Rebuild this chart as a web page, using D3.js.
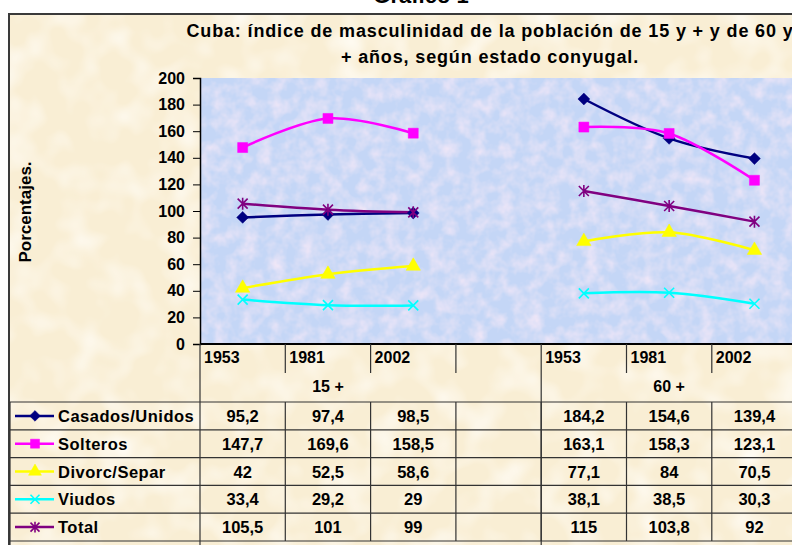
<!DOCTYPE html>
<html>
<head>
<meta charset="utf-8">
<script src="https://cdnjs.cloudflare.com/ajax/libs/d3/7.8.5/d3.min.js"></script>
<style>
  body { margin: 0; background: #fff; }
  text { font-family: Arial, "Liberation Sans", sans-serif; font-weight: bold; fill: #000; }
</style>
</head>
<body>
<svg id="chart" width="792" height="545"></svg>
<script>
// categories along the x axis (slot 3 is the empty gap between groups)
var years = ['1953', '1981', '2002', '', '1953', '1981', '2002'];
var groups = [{label: '15 +', from: 0, to: 3}, {label: '60 +', from: 4, to: 7}];
var yTicks = [0, 20, 40, 60, 80, 100, 120, 140, 160, 180, 200];

var seriesNames = ['Casados/Unidos', 'Solteros', 'Divorc/Separ', 'Viudos', 'Total'];
var casados  = [95.2, 97.4, 98.5, null, 184.2, 154.6, 139.4];
var solteros = [147.7, 169.6, 158.5, null, 163.1, 158.3, 123.1];
var divorc   = [42, 52.5, 58.6, null, 77.1, 84, 70.5];
var viudos   = [33.4, 29.2, 29, null, 38.1, 38.5, 30.3];
var total    = [105.5, 101, 99, null, 115, 103.8, 92];

var seriesColors = ['#000080', '#ff00ff', '#ffff00', '#00ffff', '#800080'];
var seriesMarks = ['diamond', 'square', 'triangle', 'x', 'star'];

var series = seriesNames.map(function(n, i) {
    return {name: n, values: [casados, solteros, divorc, viudos, total][i],
            color: seriesColors[i], mark: seriesMarks[i]};
});

var svg = d3.select('#chart');

// mottled fills, like the Excel textures
var defs = svg.append('defs');
var f1 = defs.append('filter').attr('id', 'mottle').attr('x', 0).attr('y', 0).attr('width', 1).attr('height', 1);
f1.append('feTurbulence').attr('type', 'fractalNoise').attr('baseFrequency', 0.07)
    .attr('numOctaves', 3).attr('seed', 4);
f1.append('feColorMatrix').attr('type', 'matrix')
    .attr('values', '0 0 0 0 0.88  0 0 0 0 0.80  0 0 0 0 0.93  1.7 0 0 0 -0.62');
var f2 = defs.append('filter').attr('id', 'paper').attr('x', 0).attr('y', 0).attr('width', 1).attr('height', 1);
f2.append('feTurbulence').attr('type', 'fractalNoise').attr('baseFrequency', 0.03)
    .attr('numOctaves', 2).attr('seed', 7);
f2.append('feColorMatrix').attr('type', 'matrix')
    .attr('values', '0 0 0 0 1  0 0 0 0 0.98  0 0 0 0 0.93  2 0 0 0 -0.9');

// chart frame
svg.append('rect').attr('x', 9).attr('y', 14).attr('width', 800).attr('height', 560)
    .attr('fill', '#f9eed4');
svg.append('rect').attr('x', 9).attr('y', 14).attr('width', 800).attr('height', 560)
    .attr('fill', '#fff').attr('filter', 'url(#paper)');
svg.append('rect').attr('x', 9).attr('y', 14).attr('width', 800).attr('height', 560)
    .attr('fill', 'none').attr('stroke', '#3a3a3a').attr('stroke-width', 2);

// "Gráfico 1" heading, mostly cropped
svg.append('text').attr('x', 421).attr('y', 3).attr('text-anchor', 'middle')
    .style('font-size', '22px').text('Gráfico 1');

svg.append('text').attr('x', 490).attr('y', 37).attr('text-anchor', 'middle')
    .style('font-size', '18px').style('letter-spacing', '0.85px')
    .text('Cuba: índice de masculinidad de la población de 15 y +  y de 60 y');
svg.append('text').attr('x', 490).attr('y', 63).attr('text-anchor', 'middle')
    .style('font-size', '18px').style('letter-spacing', '0.85px')
    .text('+ años, según estado conyugal.');

var plotLeft = 200, plotTop = 78, plotBottom = 344, slot = 85.3;
var x = d3.scaleBand().domain(d3.range(years.length))
    .range([plotLeft, plotLeft + slot * years.length]).padding(0);
var y = d3.scaleLinear().domain([0, 200]).range([plotBottom, plotTop]);

// plot area
svg.append('rect').attr('x', plotLeft).attr('y', plotTop)
    .attr('width', slot * years.length).attr('height', plotBottom - plotTop)
    .attr('fill', '#c4d6f6');
svg.append('rect').attr('x', plotLeft).attr('y', plotTop)
    .attr('width', slot * years.length).attr('height', plotBottom - plotTop)
    .attr('fill', '#fff').attr('filter', 'url(#mottle)');

// y axis
var yAxis = svg.append('g').attr('transform', 'translate(' + plotLeft + ',0)')
    .call(d3.axisLeft(y).tickValues(yTicks).tickSize(7).tickPadding(8));
yAxis.select('.domain').attr('stroke', '#000').attr('stroke-width', 1.5);
yAxis.selectAll('.tick line').attr('stroke', '#000');
yAxis.selectAll('text').style('font-size', '16px').style('font-family', 'Arial, sans-serif')
    .style('font-weight', 'bold');

svg.append('text').attr('transform', 'translate(31,212) rotate(-90)')
    .attr('text-anchor', 'middle').style('font-size', '17px').text('Porcentajes.');

// x axis line
svg.append('line').attr('x1', plotLeft).attr('x2', 792).attr('y1', plotBottom).attr('y2', plotBottom)
    .attr('stroke', '#000').attr('stroke-width', 2);

// year labels and category separators
svg.selectAll('.yr').data(years).enter().append('text').attr('class', 'yr')
    .attr('x', function(d, i) { return x(i) + 4; }).attr('y', 363)
    .style('font-size', '16px').text(function(d) { return d; });
svg.selectAll('.sep').data(d3.range(1, years.length)).enter().append('line')
    .attr('x1', function(d) { return x(d); }).attr('x2', function(d) { return x(d); })
    .attr('y1', plotBottom).attr('y2', function(d) { return d === 4 ? 545 : 373; })
    .attr('stroke', '#333').attr('stroke-width', 1.2);

svg.selectAll('.grp').data(groups).enter().append('text')
    .attr('x', function(d) { return x(d.from) + slot * (d.to - d.from) / 2; })
    .attr('y', 392).attr('text-anchor', 'middle').style('font-size', '16px')
    .text(function(d) { return d.label; });

// data table
var rowTop = 402, rowH = 27.8;
svg.append('line').attr('x1', plotLeft).attr('x2', plotLeft).attr('y1', plotBottom).attr('y2', 545)
    .attr('stroke', '#333').attr('stroke-width', 1.2);
svg.append('line').attr('x1', 10).attr('x2', 10).attr('y1', rowTop).attr('y2', 545)
    .attr('stroke', '#333').attr('stroke-width', 1.2);
d3.range(series.length + 1).forEach(function(r) {
    svg.append('line').attr('x1', 10).attr('x2', 792)
        .attr('y1', rowTop + r * rowH).attr('y2', rowTop + r * rowH)
        .attr('stroke', '#333').attr('stroke-width', 1.2);
});
d3.range(1, years.length).forEach(function(c) {
    svg.append('line').attr('x1', x(c)).attr('x2', x(c))
        .attr('y1', rowTop).attr('y2', rowTop + series.length * rowH)
        .attr('stroke', '#333').attr('stroke-width', 1.2);
});

function fmt(v) { return v === null ? '' : String(v).replace('.', ','); }

function markPath(kind, s) {
    if (kind === 'diamond') return d3.symbol(d3.symbolDiamond2, s * s * 0.9)();
    if (kind === 'square') return d3.symbol(d3.symbolSquare, s * s)();
    if (kind === 'triangle') return d3.symbol(d3.symbolTriangle, s * s * 0.9)();
    var h = s / 2;
    if (kind === 'x') return 'M' + -h + ',' + -h + 'L' + h + ',' + h + 'M' + -h + ',' + h + 'L' + h + ',' + -h;
    return 'M' + -h + ',' + -h + 'L' + h + ',' + h + 'M' + -h + ',' + h + 'L' + h + ',' + -h +
        'M0,' + -h * 1.2 + 'L0,' + h * 1.2;
}

function drawMark(g, d, s) {
    var filled = d.mark === 'diamond' || d.mark === 'square' || d.mark === 'triangle';
    g.append('path').attr('d', markPath(d.mark, s))
        .attr('fill', filled ? d.color : 'none')
        .attr('stroke', d.color).attr('stroke-width', filled ? 0.5 : 1.6);
}

series.forEach(function(d, r) {
    var cy = rowTop + r * rowH + rowH / 2;
    svg.append('line').attr('x1', 15).attr('x2', 54).attr('y1', cy).attr('y2', cy)
        .attr('stroke', d.color).attr('stroke-width', 2.5);
    drawMark(svg.append('g').attr('transform', 'translate(35,' + cy + ')'), d, 9);
    svg.append('text').attr('x', 58).attr('y', cy + 6).style('font-size', '16.5px')
        .style('letter-spacing', '0.5px').text(d.name);
    svg.selectAll(null).data(d.values).enter().append('text')
        .attr('x', function(v, i) { return x(i) + slot / 2; }).attr('y', cy + 6)
        .attr('text-anchor', 'middle').style('font-size', '16.5px')
        .text(fmt);
});

// lines
var line = d3.line()
    .defined(function(v) { return v !== null; })
    .x(function(v, i) { return x(i) + slot / 2; })
    .y(function(v) { return y(v); })
    .curve(d3.curveCatmullRom.alpha(0));

series.forEach(function(d) {
    svg.append('path').attr('d', line(d.values)).attr('fill', 'none')
        .attr('stroke', d.color).attr('stroke-width', 2.5);
});
series.forEach(function(d) {
    d.values.forEach(function(v, i) {
        if (v === null) return;
        drawMark(svg.append('g').attr('transform', 'translate(' + (x(i) + slot / 2) + ',' + y(v) + ')'), d, 10);
    });
});
</script>
</body>
</html>
